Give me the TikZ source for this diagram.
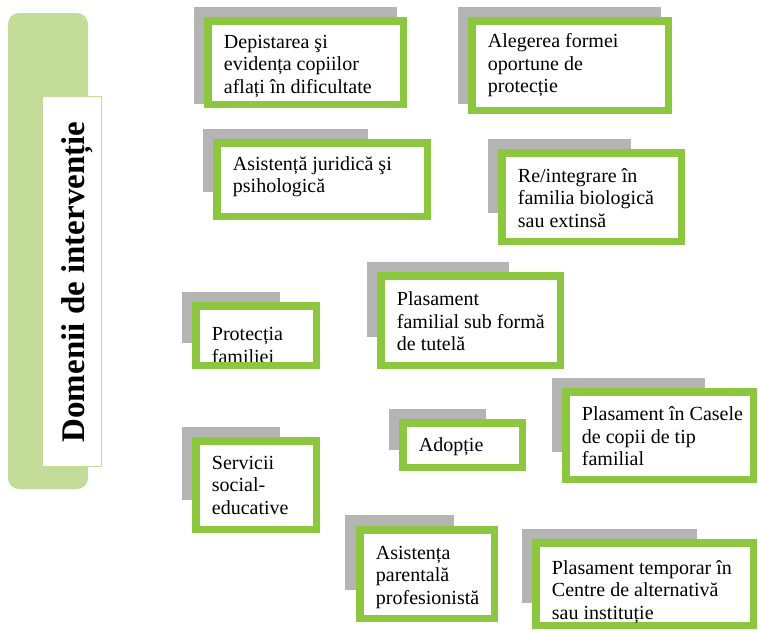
\documentclass[tikz,border=0pt]{standalone}
\usepackage{fontspec}
\setmainfont{Liberation Serif}
\usepackage{tikz}
\usetikzlibrary{positioning}

\definecolor{framegreen}{RGB}{141,198,63}
\definecolor{shadegray}{RGB}{180,180,180}
\definecolor{panelgreen}{RGB}{195,220,152}

\begin{document}
\begin{tikzpicture}[x=1pt, y=-1pt,
    shadebox/.style={fill=shadegray, inner sep=0, outer sep=0, anchor=north west},
    itembox/.style={draw=framegreen, line width=7.5pt, fill=white, inner sep=0, outer sep=0, anchor=north west},
    itemtext/.style={inner xsep=0, inner ysep=1pt, align=left, font=\fontsize{20}{22.5}\selectfont}]
    \useasboundingbox (0,0) rectangle (758,630);

    % Left panel
    \node[shadebox, fill=panelgreen, rounded corners=11pt, minimum width=80, minimum height=476] (panel) at (8,13) {};
    \node[shadebox, fill=white, draw=panelgreen, line width=1pt, minimum width=59, minimum height=370] (label) at (42.5,96.5) {};
    \node[rotate=90, font=\bfseries\fontsize{33}{36}\selectfont] (title) at (77,282) {Domenii de intervenție};

    % Grey backs
    \node[shadebox, minimum width=203, minimum height=97] (g1) at (194,7) {};
    \node[shadebox, minimum width=203, minimum height=97] (g2) at (458,7) {};
    \node[shadebox, minimum width=165, minimum height=63] (g3) at (203,129) {};
    \node[shadebox, minimum width=143, minimum height=74] (g4) at (488,139) {};
    \node[shadebox, minimum width=98, minimum height=51] (g5) at (182,292) {};
    \node[shadebox, minimum width=142, minimum height=75] (g6) at (367,262) {};
    \node[shadebox, minimum width=97, minimum height=41] (g7) at (389,409) {};
    \node[shadebox, minimum width=153, minimum height=74] (g8) at (552,378) {};
    \node[shadebox, minimum width=98, minimum height=73] (g9) at (182,427) {};
    \node[shadebox, minimum width=109, minimum height=75] (g10) at (345,515) {};
    \node[shadebox, minimum width=175, minimum height=74] (g11) at (522,529) {};

    % Green frames
    \node[itembox, minimum width=195.5, minimum height=83.5] (b1) at (207.75,20.75) {};
    \node[itembox, minimum width=196.5, minimum height=89.5] (b2) at (471.75,20.75) {};
    \node[itembox, minimum width=210.5, minimum height=73.5] (b3) at (216.75,142.75) {};
    \node[itembox, minimum width=179.5, minimum height=88.5] (b4) at (501.75,152.75) {};
    \node[itembox, minimum width=120.5, minimum height=59.5] (b5) at (195.75,305.75) {};
    \node[itembox, minimum width=179.5, minimum height=89.5] (b6) at (380.75,275.75) {};
    \node[itembox, minimum width=119.5, minimum height=44.5] (b7) at (402.75,422.75) {};
    \node[itembox, minimum width=187.5, minimum height=87.5] (b8) at (565.75,391.75) {};
    \node[itembox, minimum width=120.5, minimum height=88.5] (b9) at (195.75,440.75) {};
    \node[itembox, minimum width=134.5, minimum height=88.5] (b10) at (359.75,529.75) {};
    \node[itembox, minimum width=217.5, minimum height=82.5] (b11) at (535.75,542.75) {};

    % Texts
    \node[itemtext, right=16pt of b1.west, yshift=-4pt] (t1) {Depistarea şi\\evidența copiilor\\aflați în dificultate};
    \node[itemtext, right=16pt of b2.west] (t2) {Alegerea formei\\oportune de\\protecție};
    \node[itemtext, right=16pt of b3.west, yshift=3pt] (t3) {Asistență juridică şi\\psihologică};
    \node[itemtext, right=16pt of b4.west, yshift=-1pt] (t4) {Re/integrare în\\familia biologică\\sau extinsă};
    \node[itemtext, right=16pt of b5.west, yshift=-10pt] (t5) {Protecția\\familiei};
    \node[itemtext, right=16pt of b6.west, yshift=-1pt] (t6) {Plasament\\familial sub formă\\de tutelă};
    \node[itemtext, right=16pt of b7.west, yshift=-2pt] (t7) {Adopție};
    \node[itemtext, right=16pt of b8.west, yshift=-1pt] (t8) {Plasament în Casele\\de copii de tip\\familial};
    \node[itemtext, right=16pt of b9.west] (t9) {Servicii\\social-\\educative};
    \node[itemtext, right=16pt of b10.west, yshift=-3pt] (t10) {Asistența\\parentală\\profesionistă};
    \node[itemtext, right=16pt of b11.west, yshift=-8pt] (t11) {Plasament temporar în\\Centre de alternativă\\sau instituție};

    % frame over the cut text
    \draw[draw=framegreen, line width=7.5pt] (b5.south west) rectangle (b5.north east);
\end{tikzpicture}
\end{document}
